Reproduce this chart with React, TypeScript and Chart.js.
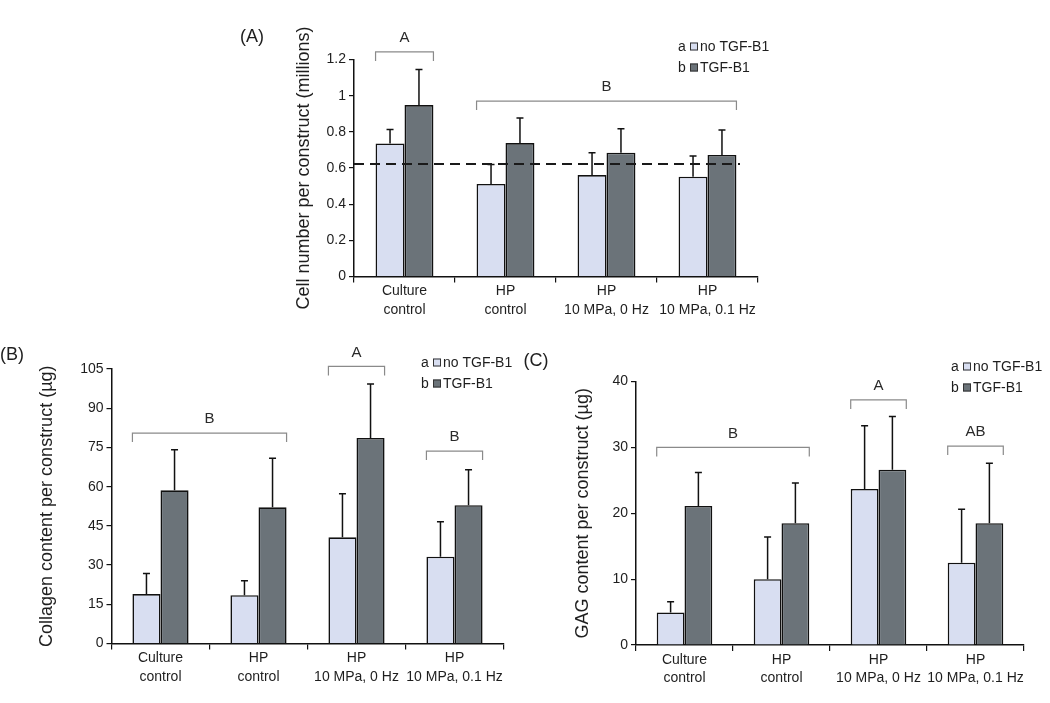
import React, { useEffect, useRef } from 'react';
import { Chart, registerables } from 'chart.js';
Chart.register(...registerables);

const FONT = '"Liberation Sans Narrow", "Arial Narrow", "Liberation Sans", Arial, sans-serif';

// ---------- data ----------
const categories: string[][] = [
  ['Culture', 'control'],
  ['HP', 'control'],
  ['HP', '10 MPa, 0 Hz'],
  ['HP', '10 MPa, 0.1 Hz'],
];
const seriesKeys = ['a', 'b'];
const seriesNames = ['no TGF-B1', 'TGF-B1'];

// (A) cell number (millions)
const cellNoTGF = [0.736, 0.512, 0.561, 0.552];
const cellNoTGFSd = [0.077, 0.108, 0.124, 0.114];
const cellTGF = [0.948, 0.738, 0.685, 0.672];
const cellTGFSd = [0.197, 0.138, 0.132, 0.138];
const cellReference = 0.622;
const cellTicks = { min: 0, max: 1.2, step: 0.2 };
const cellBrackets = [
  { from: 0, to: 0, level: 1.242, label: 'A' },
  { from: 1, to: 3, level: 0.97, label: 'B' },
];

// (B) collagen (µg)
const colNoTGF = [18.9, 18.5, 40.6, 33.2];
const colNoTGFSd = [7.9, 5.5, 16.7, 13.4];
const colTGF = [58.6, 52.1, 78.6, 52.9];
const colTGFSd = [15.5, 18.8, 20.7, 13.6];
const colTicks = { min: 0, max: 105, step: 15 };
const colBrackets = [
  { from: 0, to: 1, level: 80.5, label: 'B' },
  { from: 2, to: 2, level: 106, label: 'A' },
  { from: 3, to: 3, level: 73.6, label: 'B' },
];

// (C) GAG (µg)
const gagNoTGF = [4.94, 9.99, 23.7, 12.5];
const gagNoTGFSd = [1.62, 6.41, 9.6, 8.1];
const gagTGF = [21.1, 18.5, 26.6, 18.5];
const gagTGFSd = [5.1, 6.1, 8.1, 9.1];
const gagTicks = { min: 0, max: 40, step: 10 };
const gagBrackets = [
  { from: 0, to: 1, level: 30.0, label: 'B' },
  { from: 2, to: 2, level: 37.2, label: 'A' },
  { from: 3, to: 3, level: 30.2, label: 'AB' },
];

// ---------- styles ----------
const LIGHT = '#d8def1';
const DARK = '#6b7379';
const BORDER = '#111111';
const TEXT = '#1e1e1e';
const LABEL_SIZE = 14;
const TITLE_SIZE = 18;

type Box = { x: number; y: number; w: number; h: number };
type Area = { l: number; r: number; t: number; b: number };
type PanelDef = {
  letter: string;
  letterPos: [number, number];
  canvas: Box;
  area: Area;
  titleX: number;
  title: string;
  means: number[][];
  sds: number[][];
  ticks: { min: number; max: number; step: number };
  brackets: { from: number; to: number; level: number; label: string }[];
  reference?: number;
  legend: [number, number];
};

const panels: PanelDef[] = [
  {
    letter: '(A)', letterPos: [252, 37],
    canvas: { x: 220, y: 0, w: 570, h: 330 },
    area: { l: 354, r: 758, t: 59.5, b: 276.5 },
    titleX: 304, title: 'Cell number per construct (millions)',
    means: [cellNoTGF, cellTGF], sds: [cellNoTGFSd, cellTGFSd],
    ticks: cellTicks, brackets: cellBrackets, reference: cellReference,
    legend: [682, 47],
  },
  {
    letter: '(B)', letterPos: [12, 355],
    canvas: { x: 0, y: 330, w: 515, h: 373 },
    area: { l: 111.5, r: 503.5, t: 369, b: 643.5 },
    titleX: 47, title: 'Collagen content per construct (\u00b5g)',
    means: [colNoTGF, colTGF], sds: [colNoTGFSd, colTGFSd],
    ticks: colTicks, brackets: colBrackets,
    legend: [425, 363],
  },
  {
    letter: '(C)', letterPos: [536, 361],
    canvas: { x: 515, y: 330, w: 535, h: 373 },
    area: { l: 636, r: 1024, t: 381.5, b: 645 },
    titleX: 583.5, title: 'GAG content per construct (\u00b5g)',
    means: [gagNoTGF, gagTGF], sds: [gagNoTGFSd, gagTGFSd],
    ticks: gagTicks, brackets: gagBrackets,
    legend: [955, 367],
  },
];

function makeOverlay(p: PanelDef) {
  return {
    id: 'overlay' + p.letter,
    afterDatasetsDraw(chart: any) {
      const ctx: CanvasRenderingContext2D = chart.ctx;
      const ys = chart.scales.y;
      const ox = p.canvas.x, oy = p.canvas.y;
      ctx.save();
      // error bars (upper only)
      ctx.strokeStyle = BORDER;
      ctx.lineWidth = 1.5;
      p.means.forEach((vals, di) => {
        const meta = chart.getDatasetMeta(di);
        meta.data.forEach((bar: any, i: number) => {
          const yb = ys.getPixelForValue(vals[i]);
          const yt = ys.getPixelForValue(vals[i] + p.sds[di][i]);
          ctx.beginPath();
          ctx.moveTo(bar.x, yb);
          ctx.lineTo(bar.x, yt);
          ctx.moveTo(bar.x - 3.5, yt);
          ctx.lineTo(bar.x + 3.5, yt);
          ctx.stroke();
        });
      });
      // reference dashed line
      if (p.reference !== undefined) {
        const yr = ys.getPixelForValue(p.reference);
        ctx.beginPath();
        ctx.setLineDash([10, 6]);
        ctx.lineWidth = 2;
        ctx.strokeStyle = '#1a1a1a';
        ctx.moveTo(chart.chartArea.left, yr);
        ctx.lineTo(chart.chartArea.right - 18, yr);
        ctx.stroke();
        ctx.setLineDash([]);
      }
      // brackets
      const m0 = chart.getDatasetMeta(0), m1 = chart.getDatasetMeta(1);
      ctx.strokeStyle = '#8a8a8a';
      ctx.lineWidth = 1.2;
      ctx.font = '15px ' + FONT;
      ctx.fillStyle = '#2a2a2a';
      ctx.textAlign = 'center';
      ctx.textBaseline = 'middle';
      p.brackets.forEach((br) => {
        const a = m0.data[br.from], b = m1.data[br.to];
        const x1 = a.x - a.width / 2, x2 = b.x + b.width / 2;
        const yb = ys.getPixelForValue(br.level);
        ctx.beginPath();
        ctx.moveTo(x1, yb + 9);
        ctx.lineTo(x1, yb);
        ctx.lineTo(x2, yb);
        ctx.lineTo(x2, yb + 9);
        ctx.stroke();
        ctx.fillText(br.label, (x1 + x2) / 2, yb - 14);
      });
      // legend
      const [lx, ly] = [p.legend[0] - ox, p.legend[1] - oy];
      ctx.font = LABEL_SIZE + 'px ' + FONT;
      [LIGHT, DARK].forEach((c, i) => {
        const y = ly + i * 21;
        ctx.textAlign = 'center';
        ctx.fillStyle = TEXT;
        ctx.fillText(seriesKeys[i], lx, y);
        ctx.fillStyle = c;
        ctx.fillRect(lx + 8, y - 4.5, 8, 8);
        ctx.strokeStyle = '#333';
        ctx.lineWidth = 1;
        ctx.strokeRect(lx + 8.5, y - 4, 7, 7);
        ctx.fillStyle = TEXT;
        ctx.textAlign = 'left';
        ctx.fillText(seriesNames[i], lx + 18, y);
      });
      // panel letter
      ctx.font = '18px ' + FONT;
      ctx.textAlign = 'center';
      ctx.fillStyle = TEXT;
      ctx.fillText(p.letter, p.letterPos[0] - ox, p.letterPos[1] - oy);
      ctx.restore();
    },
  };
}

function Panel({ p }: { p: PanelDef }) {
  const ref = useRef<HTMLCanvasElement>(null);
  useEffect(() => {
    if (!ref.current) return;
    const { canvas: c, area: a } = p;
    const chart = new Chart(ref.current, {
      type: 'bar',
      data: {
        labels: categories,
        datasets: p.means.map((vals, i) => ({
          label: seriesNames[i],
          data: vals,
          backgroundColor: i === 0 ? LIGHT : DARK,
          borderColor: BORDER,
          borderWidth: 1.6,
          categoryPercentage: 0.573,
          barPercentage: 1,
        })),
      },
      options: {
        responsive: false,
        animation: false,
        devicePixelRatio: 1,
        layout: {
          padding: { left: 0, top: a.t - c.y, right: c.x + c.w - a.r, bottom: 0 },
        },
        plugins: { legend: { display: false }, tooltip: { enabled: false } },
        scales: {
          x: {
            afterFit: (s: any) => { s.height = c.y + c.h - a.b; },
            grid: { drawOnChartArea: false, drawTicks: true, tickLength: 6, color: '#111', lineWidth: 1.2, offset: true },
            border: { display: true, color: '#111', width: 1.5 },
            ticks: { color: TEXT, font: { family: FONT, size: LABEL_SIZE, lineHeight: 1.3 }, padding: 0, maxRotation: 0, autoSkip: false },
          },
          y: {
            min: p.ticks.min,
            max: p.ticks.max,
            afterFit: (s: any) => { s.width = a.l - c.x; },
            grid: { drawOnChartArea: false, drawTicks: true, tickLength: 5, color: '#111', lineWidth: 1.2 },
            border: { display: true, color: '#111', width: 1.5 },
            ticks: {
              stepSize: p.ticks.step,
              color: TEXT,
              padding: 3,
              font: { family: FONT, size: LABEL_SIZE },
              callback: (v: any) => String(Math.round(Number(v) * 100) / 100),
            },
            title: {
              display: true,
              text: p.title,
              color: TEXT,
              font: { family: FONT, size: TITLE_SIZE, lineHeight: 1.2 },
              padding: { top: p.titleX - c.x - (TITLE_SIZE * 1.2) / 2, bottom: 0 },
            },
          },
        },
      },
      plugins: [makeOverlay(p)],
    } as any);
    return () => chart.destroy();
  }, [p]);
  return (
    <canvas
      ref={ref}
      width={p.canvas.w}
      height={p.canvas.h}
      style={{ position: 'absolute', left: p.canvas.x, top: p.canvas.y, width: p.canvas.w, height: p.canvas.h }}
    />
  );
}

export default function App() {
  return (
    <div style={{ position: 'fixed', left: 0, top: 0, width: 1050, height: 703, background: '#fff', overflow: 'hidden' }}>
      {panels.map((p) => (
        <Panel key={p.letter} p={p} />
      ))}
    </div>
  );
}
